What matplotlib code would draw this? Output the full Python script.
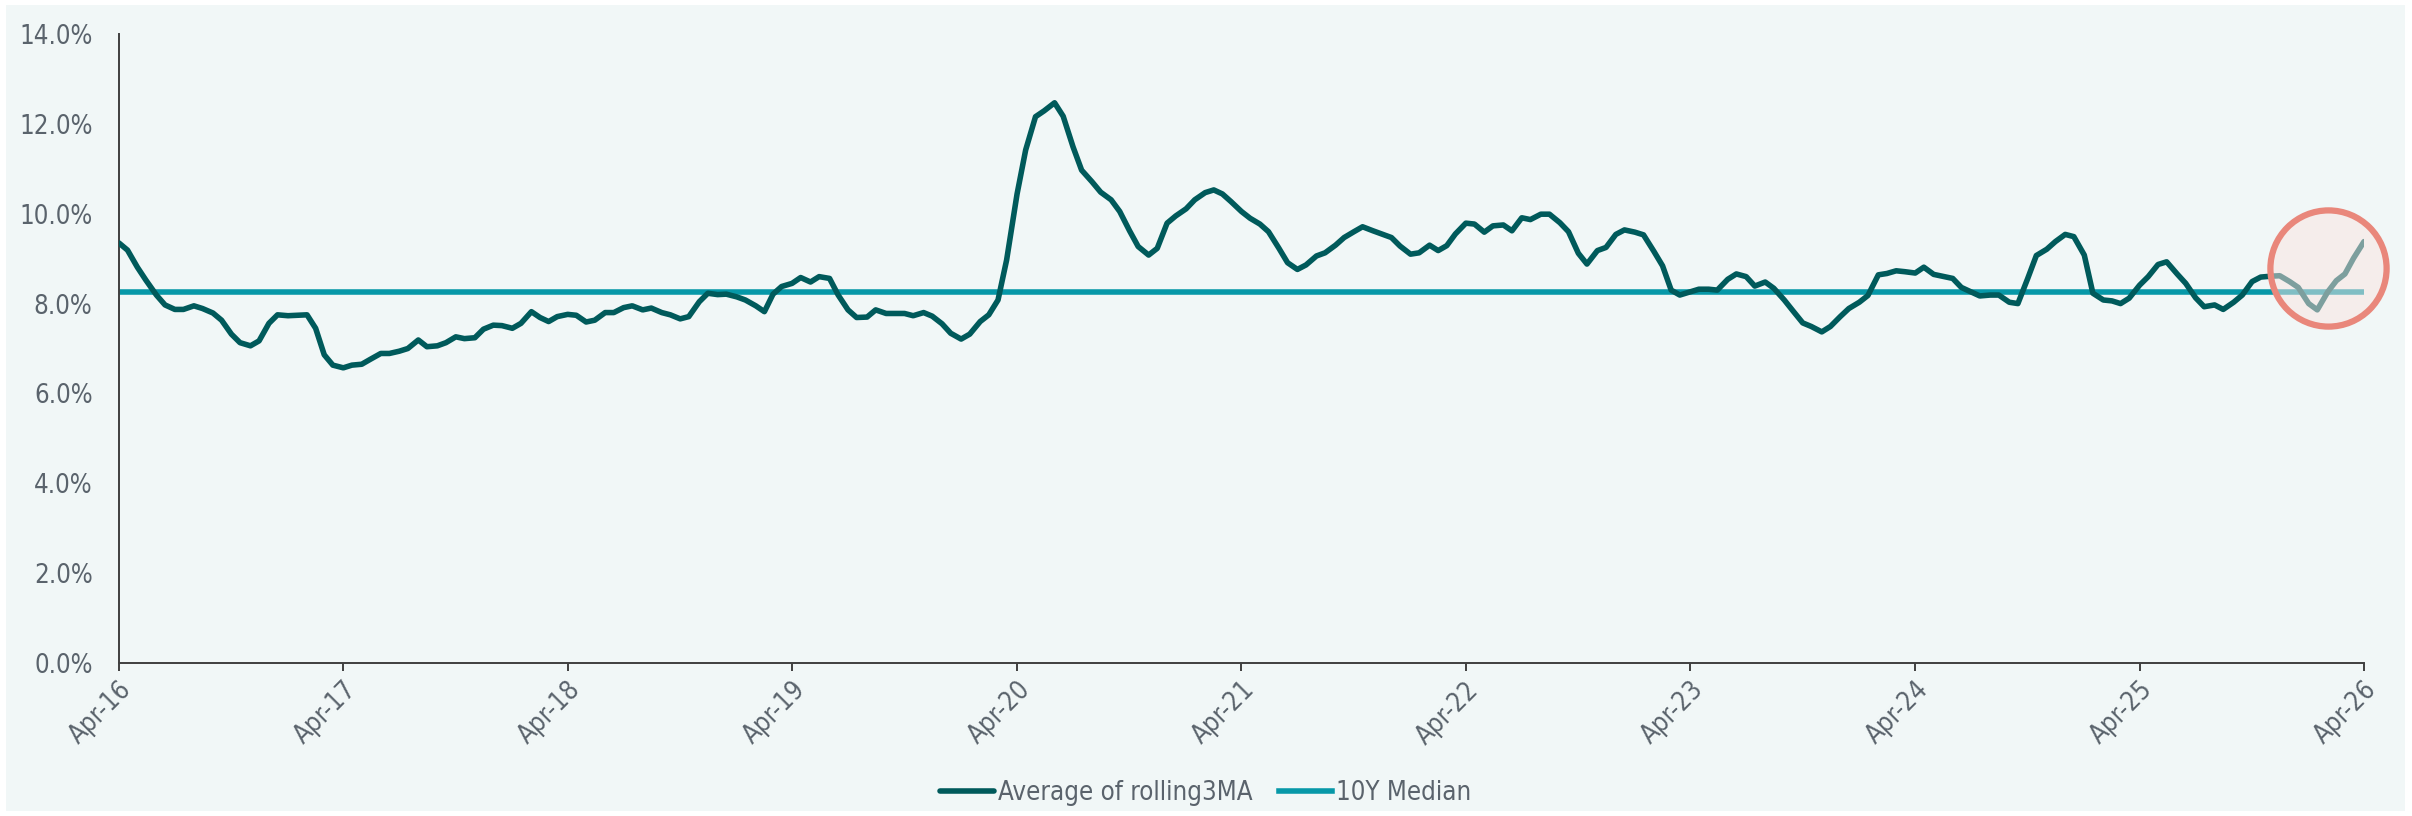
import matplotlib
matplotlib.use('Agg')
import matplotlib.dates as mdates
import matplotlib.pyplot as plt
import numpy as np
import pandas as pd
from matplotlib.patches import Rectangle
from matplotlib.ticker import FuncFormatter

plt.rcParams['font.family'] = ['DejaVu Sans']
plt.rcParams['font.stretch'] = 'condensed'

# rolling 3-month average, semi-monthly readings (%), two years per block
rolling_2016_2018 = [
    9.35, 9.19, 8.81, 8.52, 8.19, 7.97, 7.87, 7.87, 7.95, 7.89, 7.79, 7.63,
    7.32, 7.13, 7.06, 7.17, 7.56, 7.75, 7.73, 7.74, 7.75, 7.45, 6.86, 6.63,
    6.57, 6.63, 6.65, 6.76, 6.89, 6.89, 6.94, 7.00, 7.19, 7.04, 7.06, 7.13,
    7.26, 7.22, 7.24, 7.43, 7.52, 7.51, 7.45, 7.56, 7.82, 7.69, 7.60, 7.71,
]
rolling_2018_2020 = [
    7.76, 7.74, 7.59, 7.63, 7.80, 7.80, 7.91, 7.95, 7.86, 7.90, 7.80, 7.75,
    7.66, 7.71, 8.04, 8.23, 8.20, 8.21, 8.15, 8.08, 7.95, 7.82, 8.21, 8.38,
    8.45, 8.58, 8.48, 8.60, 8.56, 8.19, 7.86, 7.69, 7.70, 7.86, 7.78, 7.78,
    7.78, 7.73, 7.80, 7.72, 7.55, 7.34, 7.21, 7.32, 7.60, 7.75, 8.08, 8.97,
]
rolling_2020_2022 = [
    10.44, 11.42, 12.16, 12.29, 12.47, 12.17, 11.49, 10.97, 10.71, 10.48, 10.31, 10.05,
    9.62, 9.27, 9.08, 9.23, 9.79, 9.95, 10.11, 10.31, 10.47, 10.53, 10.44, 10.27,
    10.05, 9.90, 9.77, 9.60, 9.23, 8.91, 8.76, 8.86, 9.06, 9.13, 9.30, 9.47,
    9.60, 9.71, 9.62, 9.55, 9.47, 9.28, 9.10, 9.13, 9.30, 9.18, 9.29, 9.55,
]
rolling_2022_2024 = [
    9.79, 9.77, 9.59, 9.73, 9.75, 9.62, 9.91, 9.87, 9.99, 9.99, 9.80, 9.60,
    9.12, 8.88, 9.18, 9.25, 9.54, 9.64, 9.59, 9.53, 9.16, 8.84, 8.30, 8.19,
    8.26, 8.32, 8.32, 8.30, 8.54, 8.66, 8.60, 8.39, 8.48, 8.34, 8.08, 7.84,
    7.57, 7.49, 7.37, 7.49, 7.71, 7.89, 8.03, 8.18, 8.64, 8.67, 8.73, 8.71,
]
rolling_2024_2026 = [
    8.68, 8.81, 8.65, 8.61, 8.56, 8.36, 8.26, 8.17, 8.19, 8.19, 8.03, 8.00,
    8.56, 9.07, 9.21, 9.38, 9.54, 9.49, 9.08, 8.23, 8.08, 8.06, 8.00, 8.12,
    8.41, 8.60, 8.87, 8.93, 8.66, 8.45, 8.13, 7.93, 7.97, 7.87, 8.03, 8.19,
    8.49, 8.59, 8.61, 8.62, 8.49, 8.36, 8.00, 7.86, 8.26, 8.51, 8.66, 9.01,
    9.38,
]
median_10y = 8.25

# highlighted recent stretch
focus_date = '2026-02-01'
focus_value = 8.79

rolling = np.array(rolling_2016_2018 + rolling_2018_2020 + rolling_2020_2022
                   + rolling_2022_2024 + rolling_2024_2026)
dates = pd.date_range('2016-04-01', periods=len(rolling), freq='SMS')

BG = '#F1F7F7'
DARK = '#005A5B'
TEAL = '#0798A8'
TEXT = '#5A636C'
AXIS = '#404040'

fig = plt.figure(figsize=(24.12, 8.16), dpi=100, facecolor='white')
fig.patches.append(Rectangle((6 / 2412, 5 / 816), 2399 / 2412, 806 / 816,
                             transform=fig.transFigure, facecolor=BG,
                             edgecolor='none', zorder=-5))
ax = fig.add_axes([0.0493, 0.1875, 0.9308, 0.7708])
ax.set_facecolor('none')

ax.plot(dates, rolling, color=DARK, lw=4.0, solid_capstyle='round',
        solid_joinstyle='round', label='Average of rolling3MA', zorder=3)
ax.plot(dates, np.full(len(dates), median_10y), color=TEAL, lw=4.0,
        label='10Y Median', zorder=2)

# translucent ring over the latest months
ax.scatter([pd.Timestamp(focus_date)], [focus_value], s=7000,
           facecolors=[(250 / 255, 228 / 255, 225 / 255, 0.5)],
           edgecolors='#E9877B', linewidths=4.5, zorder=4, clip_on=False)

ax.set_ylim(0, 14)
ax.set_yticks(np.arange(0, 15, 2))
ax.yaxis.set_major_formatter(FuncFormatter(lambda v, _: f'{v:.1f}%'))
ax.set_xlim(pd.Timestamp('2016-04-01'), pd.Timestamp('2026-04-01'))
ax.set_xticks(pd.date_range('2016-04-01', '2026-04-01', freq='12MS'))
ax.xaxis.set_major_formatter(mdates.DateFormatter('%b-%y'))

for side in ('top', 'right'):
    ax.spines[side].set_visible(False)
for side in ('left', 'bottom'):
    ax.spines[side].set_color(AXIS)
    ax.spines[side].set_linewidth(1.4)

ax.tick_params(axis='y', length=0, pad=19, labelsize=18.5, labelcolor=TEXT)
ax.tick_params(axis='x', length=6, width=1.4, color=AXIS, direction='out',
               pad=4, labelsize=18.5, labelcolor=TEXT)
for lbl in ax.get_xticklabels():
    lbl.set_rotation(45)
    lbl.set_ha('right')
    lbl.set_va('top')
    lbl.set_rotation_mode('anchor')

fig.legend(loc='center', bbox_to_anchor=(0.5, 0.028), ncol=2, frameon=False,
           fontsize=18.5, labelcolor=TEXT, handlelength=2.1, handletextpad=0.15,
           columnspacing=1.0)

fig.savefig('out.png', dpi=100, facecolor='white')
